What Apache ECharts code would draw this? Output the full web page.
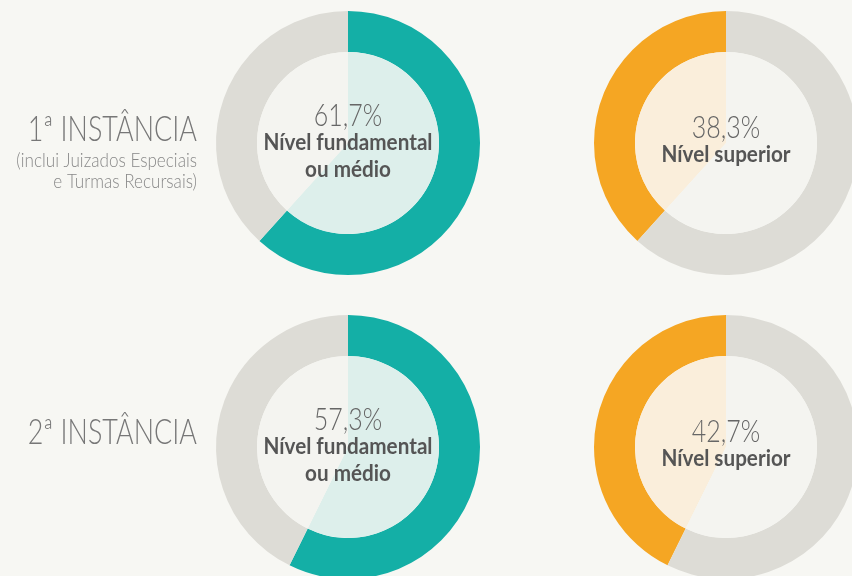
<!DOCTYPE html>
<html>
<head>
<meta charset="utf-8">
<script src="https://cdn.jsdelivr.net/npm/echarts@6/dist/echarts.min.js"></script>
<style>
  html, body { margin: 0; padding: 0; background: #f7f7f3; }
  #main { width: 852px; height: 576px; }
</style>
</head>
<body>
<div id="main"></div>
<script>
// data
const instancias = ['1ª INSTÂNCIA', '2ª INSTÂNCIA'];
const notas = ['(inclui Juizados Especiais\ne Turmas Recursais)', ''];
const fundamental = [61.7, 57.3];
const superior = [38.3, 42.7];
const rotuloFund = 'Nível fundamental\nou médio';
const rotuloSup = 'Nível superior';

const teal = '#14afa6', tealLight = '#ddefeb';
const orange = '#f5a623', orangeLight = '#faeedb';
const grey = '#dddcd6', greyLight = '#f4f4f0';

const centersX = [348, 726];
const centersY = [143, 447];
const rOut = 132, rIn = 91;

const fmt = v => v.toFixed(1).replace('.', ',') + '%';

let series = [];
let graphic = [];

function donut(cx, cy, value, color, light, clockwise) {
    series.push({
        type: 'pie', center: [cx, cy], radius: [rIn, rOut],
        startAngle: 90, clockwise: clockwise, silent: true,
        label: { show: false }, labelLine: { show: false },
        data: [
            { value: value, itemStyle: { color: color } },
            { value: 100 - value, itemStyle: { color: grey } }
        ]
    });
    series.push({
        type: 'pie', center: [cx, cy], radius: [0, rIn],
        startAngle: 90, clockwise: clockwise, silent: true,
        label: { show: false }, labelLine: { show: false },
        data: [
            { value: value, itemStyle: { color: light } },
            { value: 100 - value, itemStyle: { color: greyLight } }
        ]
    });
}

// condensed look: squeeze text horizontally
function txt(x, y, text, font, fill, align, sx, lh) {
    graphic.push({
        type: 'text', x: x, y: y, z: 100, scaleX: sx,
        style: { text: text, font: font, fill: fill, align: align, verticalAlign: 'middle', lineHeight: lh }
    });
}

for (let i = 0; i < 2; i++) {
    const cy = centersY[i];
    donut(centersX[0], cy, fundamental[i], teal, tealLight, true);
    donut(centersX[1], cy, superior[i], orange, orangeLight, false);

    txt(centersX[0], cy - 27, fmt(fundamental[i]), '300 32px Lato', '#666', 'center', 0.78);
    txt(centersX[0], cy + 13, rotuloFund, 'bold 22px Lato', '#555', 'center', 0.94, 27);
    txt(centersX[1], cy - 15, fmt(superior[i]), '300 32px Lato', '#666', 'center', 0.78);
    txt(centersX[1], cy + 12, rotuloSup, 'bold 22px Lato', '#555', 'center', 0.94);

    txt(197, i === 0 ? 130 : 433, instancias[i], '300 35px Lato', '#777', 'right', 0.77);
    if (notas[i]) {
        txt(197, 171, notas[i], '300 19px Lato', '#888', 'right', 0.9, 21);
    }
}

const chart = echarts.init(document.getElementById('main'));
chart.setOption({
    backgroundColor: '#f7f7f3',
    animation: false,
    series: series,
    graphic: graphic
});
</script>
</body>
</html>
